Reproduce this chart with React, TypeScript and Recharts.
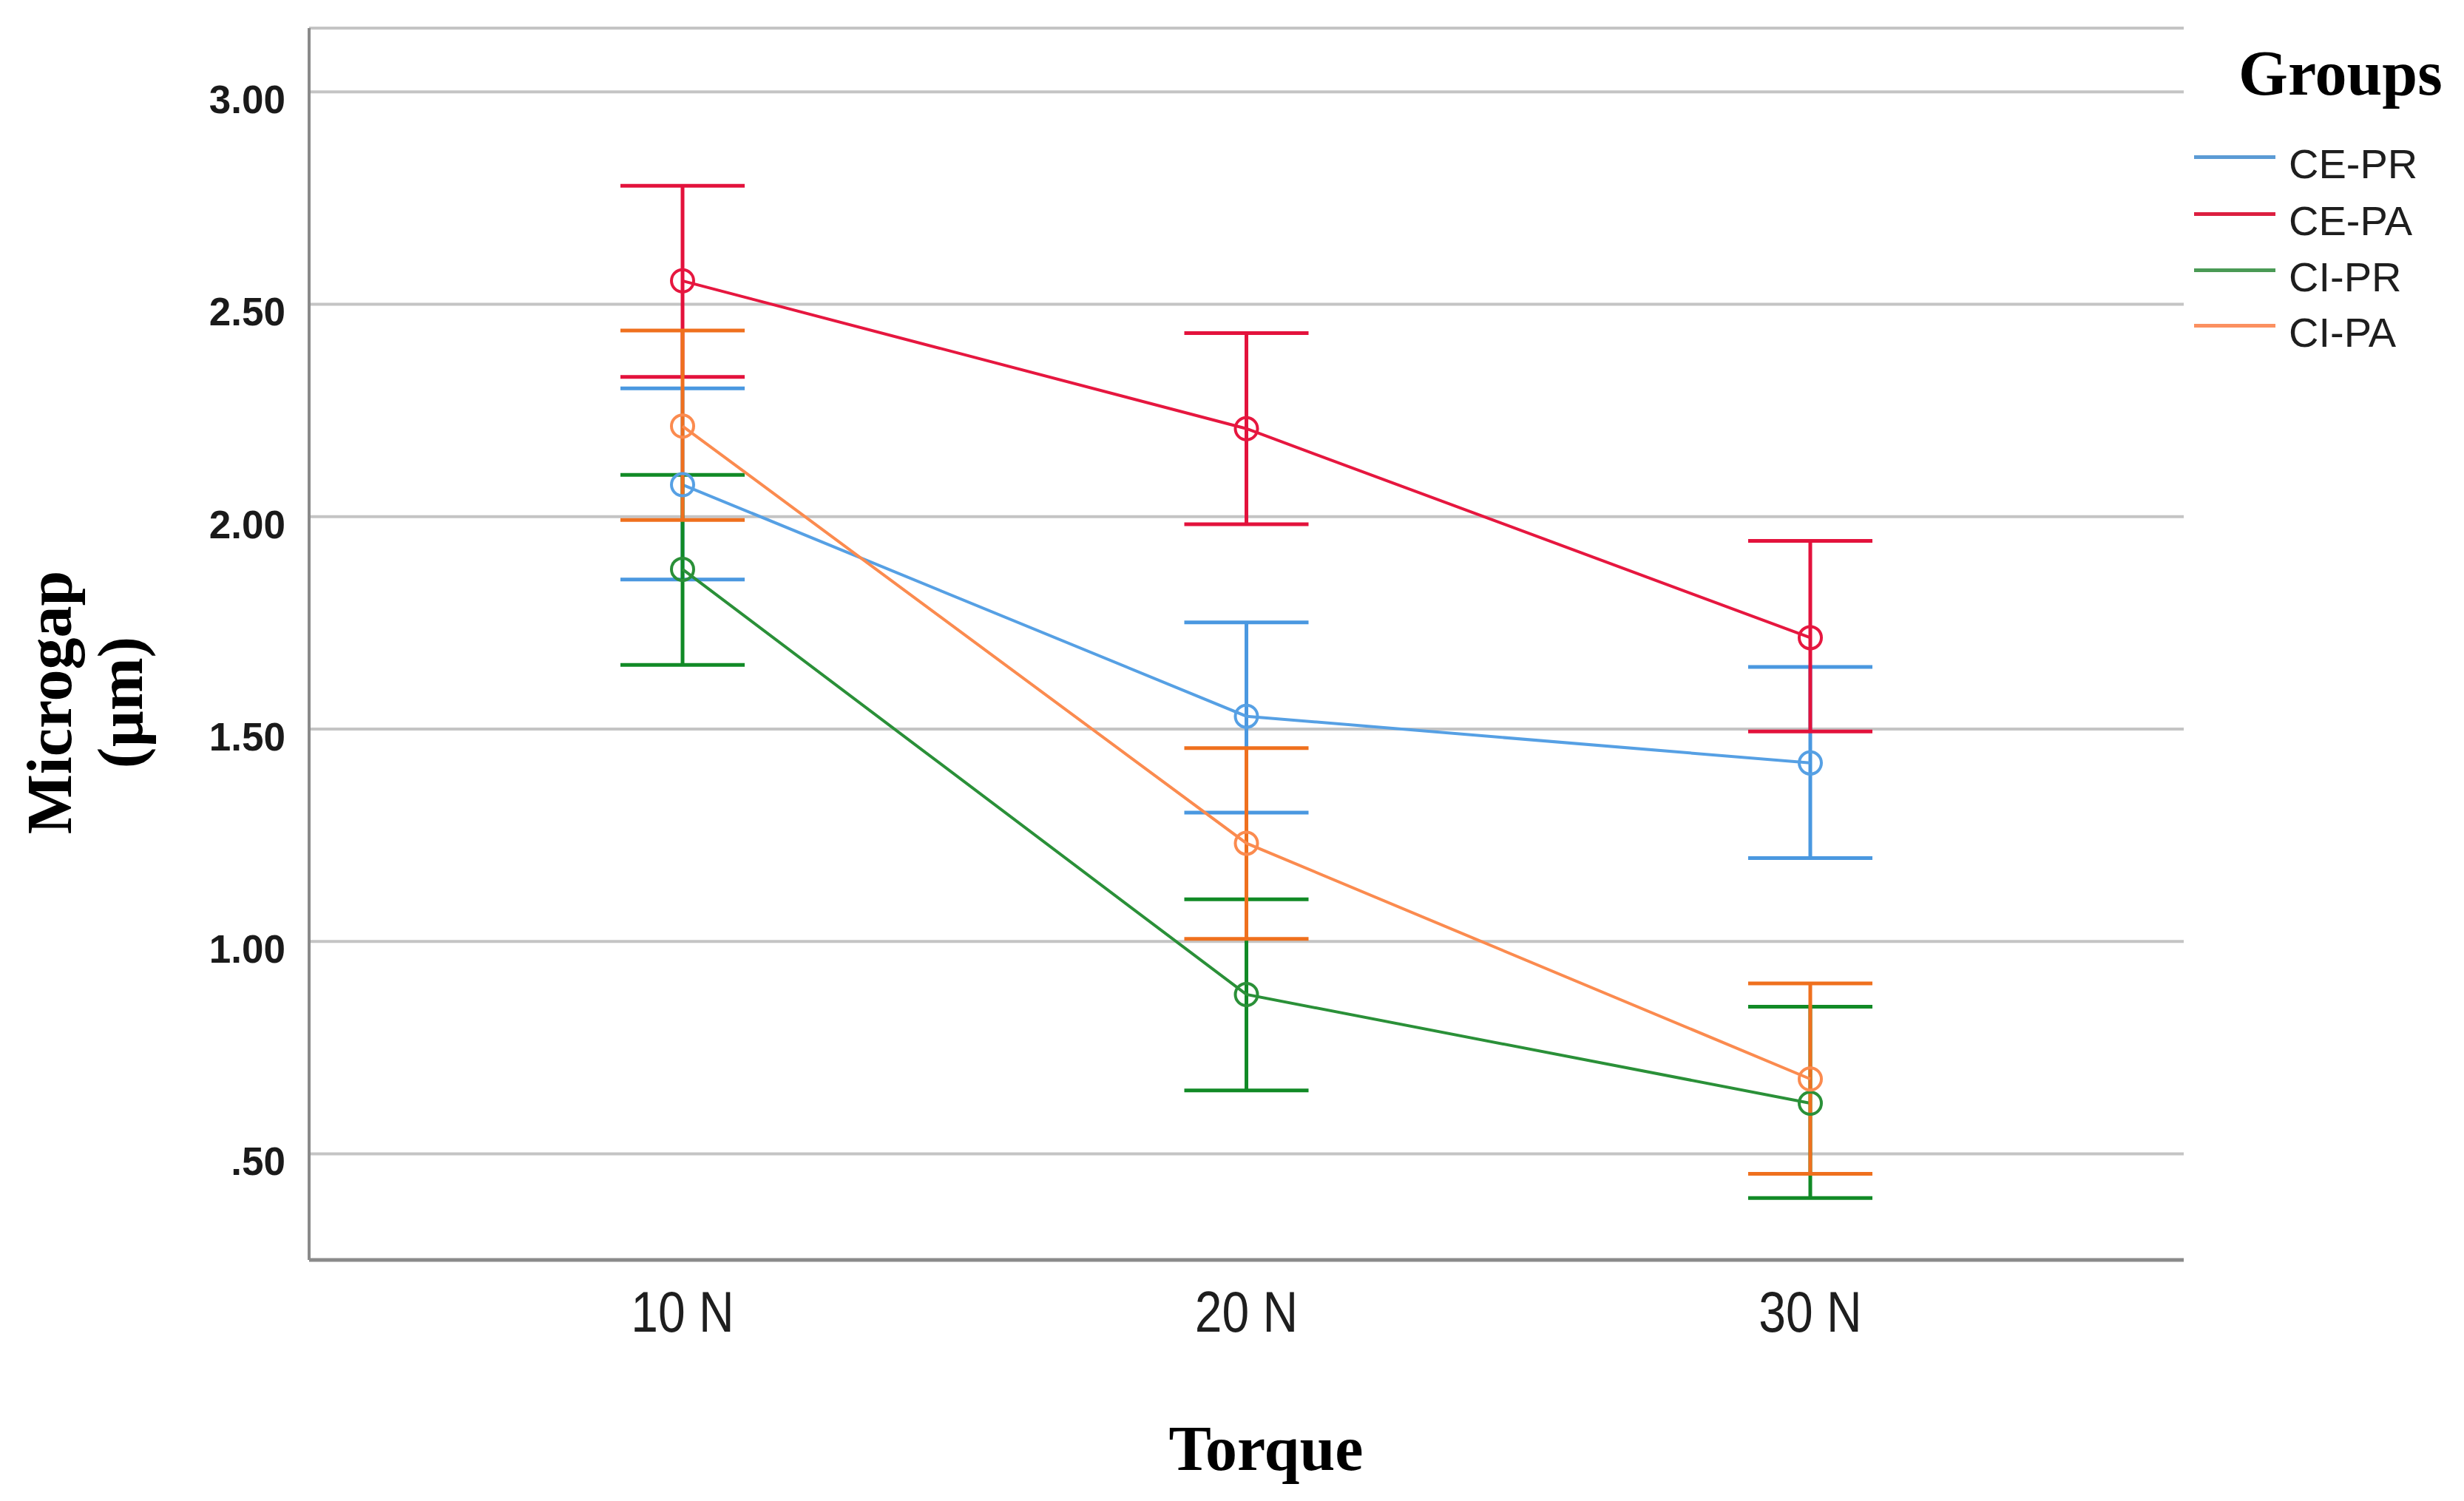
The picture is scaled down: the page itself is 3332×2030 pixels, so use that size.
import React from "react"
import { LineChart, Line, XAxis, YAxis, CartesianGrid, ErrorBar } from "recharts"

// values (means with 95% CI bounds)
const torqueLabels = ["10 N", "20 N", "30 N"]
const groupNames = ["CE-PR", "CE-PA", "CI-PR", "CI-PA"]

const cePrMean = [2.075, 1.53, 1.42]
const cePrLow = [1.852, 1.303, 1.196]
const cePrHigh = [2.302, 1.751, 1.646]

const cePaMean = [2.555, 2.207, 1.715]
const cePaLow = [2.329, 1.982, 1.494]
const cePaHigh = [2.779, 2.432, 1.943]

const ciPrMean = [1.876, 0.875, 0.619]
const ciPrLow = [1.651, 0.649, 0.396]
const ciPrHigh = [2.098, 1.099, 0.846]

const ciPaMean = [2.213, 1.231, 0.676]
const ciPaLow = [1.992, 1.006, 0.453]
const ciPaHigh = [2.438, 1.455, 0.901]

const yTicks = [0.5, 1, 1.5, 2, 2.5, 3]
const yTickLabels = [".50", "1.00", "1.50", "2.00", "2.50", "3.00"]

const groupData: Record<string, number[][]> = {
    "CE-PR": [cePrMean, cePrLow, cePrHigh],
    "CE-PA": [cePaMean, cePaLow, cePaHigh],
    "CI-PR": [ciPrMean, ciPrLow, ciPrHigh],
    "CI-PA": [ciPaMean, ciPaLow, ciPaHigh],
}

const lineColor: Record<string, string> = {
    "CE-PR": "#56a0e4",
    "CE-PA": "#e6173f",
    "CI-PR": "#2a9038",
    "CI-PA": "#fb8b4f",
}
const barColor: Record<string, string> = {
    "CE-PR": "#4a98e0",
    "CE-PA": "#e3123c",
    "CI-PR": "#118a26",
    "CI-PA": "#ef701e",
}
const legendColor: Record<string, string> = {
    "CE-PR": "#5b9bd5",
    "CE-PA": "#dc1f40",
    "CI-PR": "#4a9a55",
    "CI-PA": "#fb9060",
}

// drawing order (orange on top, like the original)
const drawOrder = ["CE-PR", "CI-PR", "CE-PA", "CI-PA"]

const data = torqueLabels.map((t, i) => {
    const row: any = { torque: t }
    groupNames.forEach((g) => {
        const [mean, low, high] = groupData[g]
        row[g] = mean[i]
        row[g + "_err"] = [mean[i] - low[i], high[i] - mean[i]]
    })
    return row
})

const serif = "'Liberation Serif', 'Times New Roman', serif"
const sans = "'Liberation Sans', Arial, sans-serif"

function XTick(props: any) {
    const { x, y, payload } = props
    return (
        <g transform={`translate(${x},${y + 97}) scale(1,1.17)`}>
            <text x={0} y={0} textAnchor="middle" fontFamily={sans} fontSize={66} fill="#1e1e1e">
                {payload.value}
            </text>
        </g>
    )
}

function YTick(props: any) {
    const { x, y, payload } = props
    const idx = yTicks.indexOf(payload.value)
    return (
        <text x={x - 32} y={y + 29} textAnchor="end" fontFamily={sans} fontWeight="bold" fontSize={53} fill="#1a1a1a">
            {idx >= 0 ? yTickLabels[idx] : payload.value}
        </text>
    )
}

export default function App() {
    const legendBaselines = [241, 318, 394, 469]
    const legendLineY = [212, 289, 365, 440]
    return (
        <div style={{ position: "absolute", left: 0, top: 0, width: 3332, height: 2030, background: "#fff" }}>
            <LineChart
                width={3332}
                height={2030}
                data={data}
                margin={{ top: 38, right: 379, left: 0, bottom: 0 }}
            >
                <CartesianGrid horizontal vertical={false} stroke="#c4c4c4" strokeWidth={4} />
                <XAxis
                    dataKey="torque"
                    padding={{ left: 505, right: 505 }}
                    height={326}
                    tickLine={false}
                    tickSize={0}
                    tickMargin={0}
                    axisLine={{ stroke: "#8a8a8a", strokeWidth: 5 }}
                    tick={<XTick />}
                />
                <YAxis
                    type="number"
                    domain={[0.25, 3.15]}
                    ticks={yTicks}
                    width={418}
                    tickLine={false}
                    tickSize={0}
                    tickMargin={0}
                    axisLine={{ stroke: "#8a8a8a", strokeWidth: 4 }}
                    tick={<YTick />}
                />
                {drawOrder.map((g) => (
                    <Line
                        key={g}
                        dataKey={g}
                        stroke={lineColor[g]}
                        strokeWidth={4}
                        isAnimationActive={false}
                        activeDot={false}
                        dot={{ r: 15, stroke: lineColor[g], strokeWidth: 4, fill: "none" }}
                    >
                        <ErrorBar
                            dataKey={g + "_err"}
                            direction="y"
                            width={84}
                            stroke={barColor[g]}
                            strokeWidth={5}
                            isAnimationActive={false}
                        />
                    </Line>
                ))}
            </LineChart>

            {/* y axis title */}
            <div
                style={{
                    position: "absolute",
                    left: -133,
                    top: 852,
                    width: 500,
                    height: 196,
                    transform: "rotate(-90deg)",
                    fontFamily: serif,
                    fontWeight: "bold",
                    fontSize: 86,
                    lineHeight: "96px",
                    textAlign: "center",
                    color: "#000",
                }}
            >
                Microgap
                <br />
                (µm)
            </div>

            {/* x axis title */}
            <div
                style={{
                    position: "absolute",
                    left: 1512,
                    top: 1916,
                    width: 400,
                    textAlign: "center",
                    fontFamily: serif,
                    fontWeight: "bold",
                    fontSize: 86,
                    lineHeight: "86px",
                    color: "#000",
                }}
            >
                Torque
            </div>

            {/* legend */}
            <div
                style={{
                    position: "absolute",
                    left: 3027,
                    top: 128 - 72,
                    fontFamily: serif,
                    fontWeight: "bold",
                    fontSize: 86,
                    lineHeight: "86px",
                    color: "#000",
                    whiteSpace: "nowrap",
                }}
            >
                Groups
            </div>
            {groupNames.map((g, i) => (
                <React.Fragment key={g}>
                    <div
                        style={{
                            position: "absolute",
                            left: 2967,
                            top: legendLineY[i] - 2.5,
                            width: 110,
                            height: 5,
                            background: legendColor[g],
                        }}
                    />
                    <div
                        style={{
                            position: "absolute",
                            left: 3095,
                            top: legendBaselines[i] - 47,
                            fontFamily: sans,
                            fontSize: 56,
                            lineHeight: "56px",
                            color: "#1e1e1e",
                            whiteSpace: "nowrap",
                        }}
                    >
                        {g}
                    </div>
                </React.Fragment>
            ))}
        </div>
    )
}
